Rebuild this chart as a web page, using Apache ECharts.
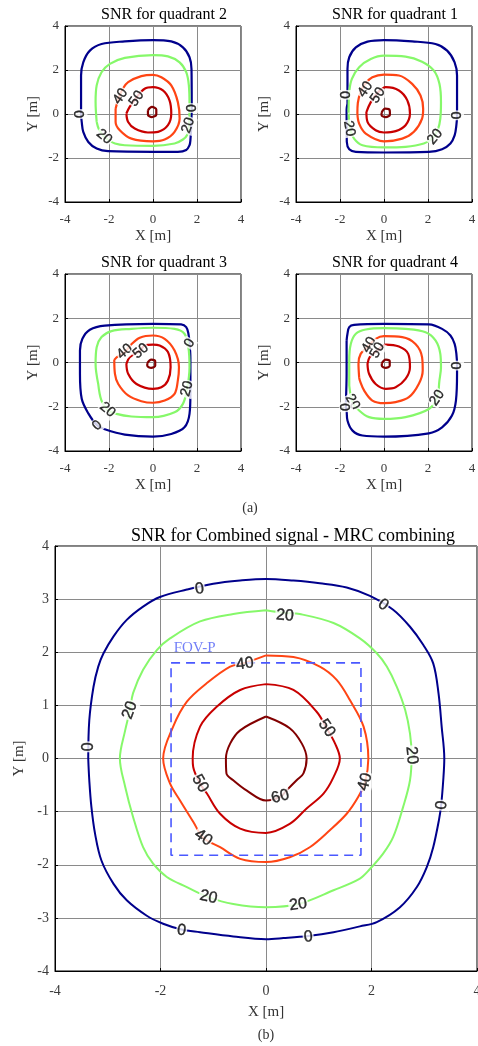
<!DOCTYPE html>
<html><head><meta charset="utf-8">
<script src="https://cdn.jsdelivr.net/npm/echarts@6/dist/echarts.min.js"></script>
<style>html,body{margin:0;padding:0;background:#fff;overflow:hidden}#c{width:478px;height:1046px}</style>
</head><body><div id="c"></div><script>
// ---- tick values ----
const smallTicks = [-4, -2, 0, 2, 4];
const bigXTicks = [-4, -2, 0, 2, 4];
const bigYTicks = [-4, -3, -2, -1, 0, 1, 2, 3, 4];
const contourLevels = [0, 20, 40, 50, 60];
const panelTitles = ['SNR for quadrant 2', 'SNR for quadrant 1', 'SNR for quadrant 3', 'SNR for quadrant 4', 'SNR for Combined signal - MRC combining'];
const subCaptions = ['(a)', '(b)'];

// ---- quadrant 2 contours ----
const q2Level0 = [[-3.27,0.57],[-3.27,1.75],[-3.17,2.35],[-2.87,2.88],[-2.34,3.18],[-1.28,3.30],[0,3.36],[0.83,3.30],[1.36,3.03],[1.66,2.58],[1.75,2.05],[1.76,0.5],[1.74,-0.5],[1.70,-1.2],[1.66,-1.42],[1.51,-1.64],[1.13,-1.72],[0,-1.72],[-2.04,-1.69],[-2.56,-1.57],[-2.94,-1.27],[-3.17,-0.81],[-3.24,-0.36],[-3.27,0.0],[-3.27,0.57]];
const q2Level20 = [[-2.56,-0.36],[-2.61,0.54],[-2.56,1.30],[-2.34,1.90],[-1.96,2.28],[-1.28,2.55],[0,2.68],[0.68,2.62],[1.21,2.35],[1.51,1.90],[1.63,1.30],[1.66,0.39],[1.63,-0.6],[1.55,-0.95],[1.36,-1.16],[0.98,-1.34],[0,-1.45],[-1.28,-1.42],[-1.73,-1.34],[-2.0,-1.2],[-2.25,-1.0],[-2.45,-0.72],[-2.56,-0.36]];
const q2Level40 = [[-1.70,0.24],[-1.70,-0.36],[-1.51,-0.74],[-0.98,-1.12],[0,-1.24],[0.53,-1.16],[0.98,-0.81],[1.21,-0.21],[1.13,0.54],[0.83,1.30],[0.38,1.67],[0,1.78],[-0.53,1.72],[-1.13,1.45],[-1.36,1.17],[-1.55,0.75],[-1.70,0.24]];
const q2Level50 = [[-1.21,0.02],[-1.13,-0.36],[-0.83,-0.66],[-0.23,-0.84],[0.23,-0.81],[0.68,-0.51],[0.83,0.02],[0.75,0.62],[0.45,1.07],[0,1.22],[-0.38,1.15],[-0.75,0.75],[-1.06,0.32],[-1.21,0.02]];
const q2Level60 = [[-0.23,0.17],[-0.05,0.32],[0.15,0.21],[0.15,-0.03],[-0.05,-0.14],[-0.23,-0.03],[-0.23,0.17]];
const q2Labels = [[-3.30,0.0,'0',90],[-2.22,-1.04,'20',-40],[-1.48,0.80,'40',55],[-0.75,0.70,'50',55],[1.80,0.27,'0',90],[1.60,-0.52,'20',70]];

// ---- quadrant 1 contours ----
const q1Level0 = [[-1.66,0.47],[-1.66,2.05],[-1.58,2.58],[-1.28,3.03],[-0.75,3.29],[0,3.36],[1.28,3.30],[2.34,3.18],[2.87,2.88],[3.21,2.35],[3.32,1.75],[3.32,0.39],[3.32,-0.06],[3.29,-0.51],[3.21,-0.97],[3.02,-1.34],[2.64,-1.60],[2.04,-1.72],[0,-1.75],[-1.28,-1.72],[-1.58,-1.60],[-1.69,-1.27],[-1.70,-0.36],[-1.70,0.2],[-1.66,0.47]];
const q1Level20 = [[-1.61,0.06],[-1.58,1.0],[-1.46,1.60],[-1.13,2.13],[-0.60,2.50],[0,2.65],[0.98,2.61],[1.73,2.38],[2.26,1.98],[2.52,1.37],[2.59,0.54],[2.56,-0.21],[2.45,-0.70],[2.2,-1.1],[1.81,-1.34],[0.98,-1.49],[0,-1.52],[-0.98,-1.42],[-1.36,-1.12],[-1.55,-0.66],[-1.61,0.06]];
const q1Level40 = [[-1.21,0.02],[-1.13,-0.44],[-0.83,-0.89],[0,-1.24],[0.83,-1.12],[1.36,-0.81],[1.73,-0.21],[1.78,0.24],[1.66,0.84],[1.28,1.37],[0.68,1.75],[0,1.79],[-0.53,1.67],[-0.85,1.38],[-1.06,1.0],[-1.19,0.5],[-1.21,0.02]];
const q1Level50 = [[-0.80,0.09],[-0.75,-0.36],[-0.38,-0.74],[0,-0.84],[0.53,-0.78],[0.98,-0.51],[1.18,0.02],[1.06,0.62],[0.68,1.07],[0.08,1.22],[-0.30,0.95],[-0.60,0.54],[-0.80,0.09]];
const q1Level60 = [[-0.11,0.06],[0.05,0.24],[0.26,0.17],[0.27,-0.03],[0.08,-0.14],[-0.11,-0.06],[-0.11,0.06]];
const q1Labels = [[-1.73,0.87,'0',90],[-1.58,-0.66,'20',-80],[-0.85,1.12,'40',55],[-0.28,0.85,'50',55],[3.32,-0.06,'0',90],[2.32,-1.04,'20',50]];

// ---- quadrant 3 contours ----
const q3Level0 = [[1.66,0.87],[1.61,1.30],[1.51,1.60],[1.28,1.72],[0,1.75],[-2.19,1.67],[-2.87,1.48],[-3.21,1.07],[-3.32,0.54],[-3.32,-0.51],[-3.24,-1.64],[-2.94,-2.30],[-2.53,-2.85],[-2.19,-3.02],[-1.28,-3.26],[0,-3.35],[0.83,-3.23],[1.43,-2.93],[1.66,-2.32],[1.70,-1.42],[1.70,0.2],[1.66,0.87]];
const q3Level20 = [[-2.49,-0.97],[-2.61,-0.06],[-2.56,0.69],[-2.34,1.15],[-1.89,1.42],[-0.98,1.52],[0,1.57],[0.98,1.52],[1.43,1.30],[1.61,0.69],[1.66,-0.21],[1.55,-1.19],[1.36,-1.87],[0.98,-2.25],[0,-2.47],[-0.98,-2.44],[-1.66,-2.32],[-2.07,-2.14],[-2.35,-1.7],[-2.49,-0.97]];
const q3Level40 = [[-1.76,0.12],[-1.73,-0.51],[-1.58,-0.97],[-1.13,-1.49],[-0.53,-1.75],[0,-1.82],[0.53,-1.72],[0.98,-1.42],[1.13,-0.81],[1.18,-0.21],[0.98,0.54],[0.53,1.07],[0,1.22],[-0.60,1.12],[-1.0,0.8],[-1.28,0.47],[-1.6,0.28],[-1.76,0.12]];
const q3Level50 = [[-1.21,-0.06],[-1.13,-0.51],[-0.75,-0.97],[0,-1.19],[0.38,-1.12],[0.68,-0.81],[0.80,-0.21],[0.68,0.47],[0.30,0.77],[0,0.81],[-0.38,0.77],[-0.58,0.55],[-1.06,0.24],[-1.21,-0.06]];
const q3Level60 = [[-0.26,-0.03],[-0.08,0.13],[0.10,0.06],[0.10,-0.15],[-0.08,-0.24],[-0.26,-0.15],[-0.26,-0.03]];
const q3Labels = [[1.66,0.87,'0',60],[1.55,-1.19,'20',75],[-1.28,0.50,'40',40],[-0.56,0.52,'50',40],[-2.07,-2.14,'20',-40],[-2.53,-2.85,'0',45]];

// ---- quadrant 4 contours ----
const q4Level0 = [[-1.70,1.0],[-1.66,1.30],[-1.58,1.60],[-1.36,1.70],[0,1.75],[2.04,1.72],[2.64,1.52],[3.02,1.22],[3.21,0.84],[3.29,0.39],[3.32,-0.14],[3.32,-0.51],[3.27,-1.72],[3.09,-2.40],[2.64,-2.93],[2.04,-3.20],[0,-3.35],[-0.98,-3.30],[-1.43,-3.08],[-1.66,-2.62],[-1.70,-2.17],[-1.73,-2.02],[-1.70,-0.51],[-1.70,1.0]];
const q4Level20 = [[-1.58,-1.04],[-1.58,0.09],[-1.51,0.84],[-1.28,1.30],[-0.83,1.49],[0,1.55],[0.98,1.52],[1.89,1.37],[2.34,1.0],[2.56,0.39],[2.59,-0.21],[2.52,-0.81],[2.41,-1.60],[2.04,-2.10],[0.98,-2.47],[0,-2.55],[-0.68,-2.47],[-1.13,-2.17],[-1.43,-1.79],[-1.58,-1.04]];
const q4Level40 = [[-1.13,-0.66],[-1.16,-0.06],[-1.06,0.39],[-0.68,0.77],[-0.38,1.07],[0,1.19],[0.83,1.15],[1.43,0.84],[1.73,0.24],[1.76,-0.36],[1.58,-0.97],[1.13,-1.57],[0.53,-1.79],[0,-1.84],[-0.53,-1.72],[-0.90,-1.27],[-1.10,-0.81],[-1.13,-0.66]];
const q4Level50 = [[-0.75,-0.06],[-0.68,-0.51],[-0.38,-0.97],[0.08,-1.19],[0.53,-1.12],[0.98,-0.74],[1.18,-0.21],[1.10,0.39],[0.68,0.72],[0.08,0.81],[-0.30,0.55],[-0.65,0.24],[-0.75,-0.06]];
const q4Level60 = [[-0.10,-0.03],[0.08,0.13],[0.26,0.06],[0.26,-0.15],[0.08,-0.24],[-0.10,-0.15],[-0.10,-0.03]];
const q4Labels = [[3.32,-0.14,'0',90],[2.41,-1.60,'20',55],[-0.68,0.80,'40',60],[-0.30,0.55,'50',60],[-1.43,-1.79,'20',-60],[-1.73,-2.02,'0',90]];

// ---- combined (MRC) contours ----
const mrcLevel0 = [[-3.37,0.0],[-3.35,0.72],[-3.27,1.35],[-3.18,1.73],[-3.08,1.98],[-2.89,2.30],[-2.64,2.61],[-2.33,2.86],[-2.01,3.04],[-1.50,3.18],[-1.0,3.29],[-0.49,3.35],[0,3.38],[0.52,3.35],[1.02,3.30],[1.53,3.22],[1.97,3.06],[2.41,2.80],[2.73,2.48],[2.98,2.14],[3.17,1.79],[3.27,1.23],[3.33,0.60],[3.38,0.0],[3.36,-0.41],[3.32,-0.88],[3.28,-1.15],[3.17,-1.67],[3.05,-2.04],[2.86,-2.42],[2.54,-2.80],[2.10,-3.08],[1.78,-3.16],[1.28,-3.27],[0.8,-3.34],[0.33,-3.38],[0,-3.40],[-0.62,-3.35],[-1.25,-3.27],[-1.6,-3.22],[-1.95,-3.11],[-2.26,-2.96],[-2.64,-2.67],[-2.89,-2.36],[-3.12,-1.92],[-3.24,-1.42],[-3.31,-0.91],[-3.35,-0.41],[-3.37,0.0]];
const mrcLevel20 = [[0,2.79],[0.36,2.74],[0.64,2.72],[1.28,2.55],[1.78,2.26],[2.10,1.98],[2.29,1.73],[2.48,1.35],[2.64,0.91],[2.73,0.47],[2.76,0.06],[2.73,-0.41],[2.60,-0.91],[2.41,-1.48],[2.22,-1.79],[1.97,-2.08],[1.78,-2.26],[1.28,-2.48],[0.61,-2.74],[0,-2.80],[-0.62,-2.74],[-1.09,-2.61],[-1.50,-2.42],[-1.88,-2.23],[-2.14,-1.98],[-2.33,-1.67],[-2.52,-1.10],[-2.67,-0.53],[-2.77,0],[-2.67,0.53],[-2.58,0.91],[-2.52,1.23],[-2.33,1.67],[-2.07,2.04],[-1.82,2.26],[-1.25,2.58],[-0.62,2.72],[0,2.79]];
const mrcLevel40 = [[0,1.94],[0.52,1.91],[1.02,1.73],[1.34,1.48],[1.59,1.10],[1.85,0.60],[1.94,0],[1.88,-0.44],[1.75,-0.72],[1.53,-1.04],[1.21,-1.35],[0.83,-1.67],[0.45,-1.86],[0,-1.95],[-0.49,-1.89],[-0.87,-1.67],[-1.19,-1.49],[-1.38,-1.19],[-1.63,-0.79],[-1.82,-0.47],[-1.95,0],[-1.76,0.60],[-1.50,1.07],[-1.12,1.42],[-0.68,1.73],[-0.40,1.80],[0,1.94]];
const mrcLevel50 = [[0,1.40],[0.52,1.29],[0.96,0.88],[1.15,0.57],[1.31,0.28],[1.40,0],[1.28,-0.35],[1.09,-0.66],[0.77,-0.94],[0.45,-1.23],[0,-1.40],[-0.49,-1.32],[-0.87,-1.04],[-1.12,-0.66],[-1.25,-0.47],[-1.38,-0.16],[-1.39,0],[-1.25,0.60],[-0.94,0.97],[-0.49,1.29],[0,1.40]];
const mrcLevel60 = [[0,0.79],[0.45,0.57],[0.68,0.28],[0.77,0],[0.71,-0.28],[0.58,-0.41],[0.39,-0.60],[0.27,-0.72],[0,-0.79],[-0.37,-0.60],[-0.62,-0.41],[-0.75,-0.28],[-0.76,0],[-0.68,0.28],[-0.49,0.53],[0,0.79]];
const mrcLabels = [[-1.26,3.19,'0',8],[2.22,2.89,'0',-35],[0.36,2.69,'20',-5],[-2.58,0.91,'20',70],[-3.37,0.22,'0',90],[2.76,0.06,'20',-85],[-0.40,1.78,'40',8],[1.15,0.57,'50',-55],[1.88,-0.44,'40',75],[-1.25,-0.47,'50',-60],[0.27,-0.72,'60',15],[-1.19,-1.49,'40',-35],[-1.09,-2.61,'20',-12],[0.61,-2.75,'20',8],[-1.60,-3.24,'0',-8],[0.80,-3.36,'0',5],[3.33,-0.88,'0',85]];
const fovRect = [[-1.8,1.8],[1.8,1.8],[1.8,-1.82],[-1.8,-1.82],[-1.8,1.8]];
const fovLabel = [[-1.76,2.07,'FOV-P']];

// ---- styling / layout ----
const levelColors = {0:'#00008c', 20:'#86f86a', 40:'#ff4514', 50:'#c80000', 60:'#820000'};
const SERIF = '"Liberation Serif","Times New Roman",serif';
const SANS = '"Liberation Sans",Arial,sans-serif';
const CLEAR = 'rgba(0,0,0,0)';
const panels = [
  {levels:[q2Level0,q2Level20,q2Level40,q2Level50,q2Level60], labels:q2Labels, grid:{left:65,top:26,width:176,height:176}, title:[164,15], big:false},
  {levels:[q1Level0,q1Level20,q1Level40,q1Level50,q1Level60], labels:q1Labels, grid:{left:296,top:26,width:176,height:176}, title:[395,15], big:false},
  {levels:[q3Level0,q3Level20,q3Level40,q3Level50,q3Level60], labels:q3Labels, grid:{left:65,top:274,width:176,height:177}, title:[164,263], big:false},
  {levels:[q4Level0,q4Level20,q4Level40,q4Level50,q4Level60], labels:q4Labels, grid:{left:296,top:274,width:176,height:177}, title:[395,263], big:false},
  {levels:[mrcLevel0,mrcLevel20,mrcLevel40,mrcLevel50,mrcLevel60], labels:mrcLabels, grid:{left:55,top:546,width:422,height:425}, title:[293,536], big:true}
];

const grids = [], xAxes = [], yAxes = [], series = [], graphics = [];
panels.forEach((p, i) => {
  grids.push(Object.assign({show:true, borderColor:'#000', borderWidth:1, backgroundColor:'#fff', containLabel:false, outerBoundsMode:'none'}, p.grid));
  const xt = p.big ? bigXTicks : smallTicks;
  const yt = p.big ? bigYTicks : smallTicks;
  const common = {
    gridIndex:i, type:'value',
    axisLine:{show:true, onZero:false, lineStyle:{color:'#000', width:1}},
    axisTick:{show:true, inside:true, length:3, lineStyle:{color:'#000'}},
    splitLine:{show:true, lineStyle:{color:'#8a8a8a', width:1}},
    nameLocation:'middle',
    nameTextStyle:{fontFamily:SERIF, fontSize:15, color:'#333'}
  };
  xAxes.push(Object.assign({}, common, {
    min:xt[0], max:xt[xt.length-1], interval:xt[1]-xt[0], name:'X [m]',
    nameGap: p.big ? 34 : 27,
    axisLabel:{fontFamily:SERIF, fontSize: p.big ? 14 : 13, color:'#3a3a3a', margin: p.big ? 13 : 11}
  }));
  yAxes.push(Object.assign({}, common, {
    min:yt[0], max:yt[yt.length-1], interval:yt[1]-yt[0], name:'Y [m]',
    nameGap: p.big ? 28 : 24,
    axisLabel:{fontFamily:SERIF, fontSize: p.big ? 14 : 13, color:'#3a3a3a', margin: 6}
  }));
  p.levels.forEach((pts, k) => {
    series.push({
      type:'line', xAxisIndex:i, yAxisIndex:i, data:pts, showSymbol:false, symbol:'none',
      smooth:0.35, silent:true, z:3,
      lineStyle:{color:levelColors[contourLevels[k]], width: p.big ? 2 : 2.2}
    });
  });
  if (p.big) {
    series.push({
      type:'line', xAxisIndex:i, yAxisIndex:i, data:fovRect, showSymbol:false, symbol:'none', silent:true, z:4,
      lineStyle:{color:'#4a58ff', width:1.6, type:[9,6]}
    });
    series.push({
      type:'scatter', xAxisIndex:i, yAxisIndex:i, symbolSize:1, itemStyle:{color:CLEAR}, silent:true, z:6,
      data: fovLabel.map(l => ({value:[l[0], l[1]], name:l[2]})),
      label:{show:true, position:'right', distance:0, formatter:q=>q.name, fontFamily:SERIF, fontSize:15, color:'#4f5ff5'}
    });
  }
  series.push({
    type:'scatter', xAxisIndex:i, yAxisIndex:i, symbolSize:1, itemStyle:{color:CLEAR}, silent:true, z:8,
    data: p.labels.map(l => ({value:[l[0], l[1]], name:l[2], label:{rotate:l[3]}})),
    label:{show:true, position:'inside', formatter:q=>q.name, fontFamily:SANS, fontSize: p.big ? 16 : 14,
      color:'#000', textBorderColor:'#000', textBorderWidth:0.4, backgroundColor:'#fff', padding:[0,1]}
  });
  graphics.push({type:'text', x:p.title[0], y:p.title[1], z:100,
    style:{text:panelTitles[i], fontFamily:SERIF, fontSize: p.big ? 18 : 16, fill:'#000', textAlign:'center', textVerticalAlign:'middle'}});
});
graphics.push({type:'text', x:250, y:508, style:{text:subCaptions[0], fontFamily:SERIF, fontSize:14, fill:'#333', textAlign:'center', textVerticalAlign:'middle'}});
graphics.push({type:'text', x:266, y:1035, style:{text:subCaptions[1], fontFamily:SERIF, fontSize:14, fill:'#333', textAlign:'center', textVerticalAlign:'middle'}});

const chart = echarts.init(document.getElementById('c'), null, {renderer:'canvas'});
chart.setOption({
  animation:false, backgroundColor:'#fff',
  grid:grids, xAxis:xAxes, yAxis:yAxes, series:series, graphic:graphics
});
</script></body></html>
